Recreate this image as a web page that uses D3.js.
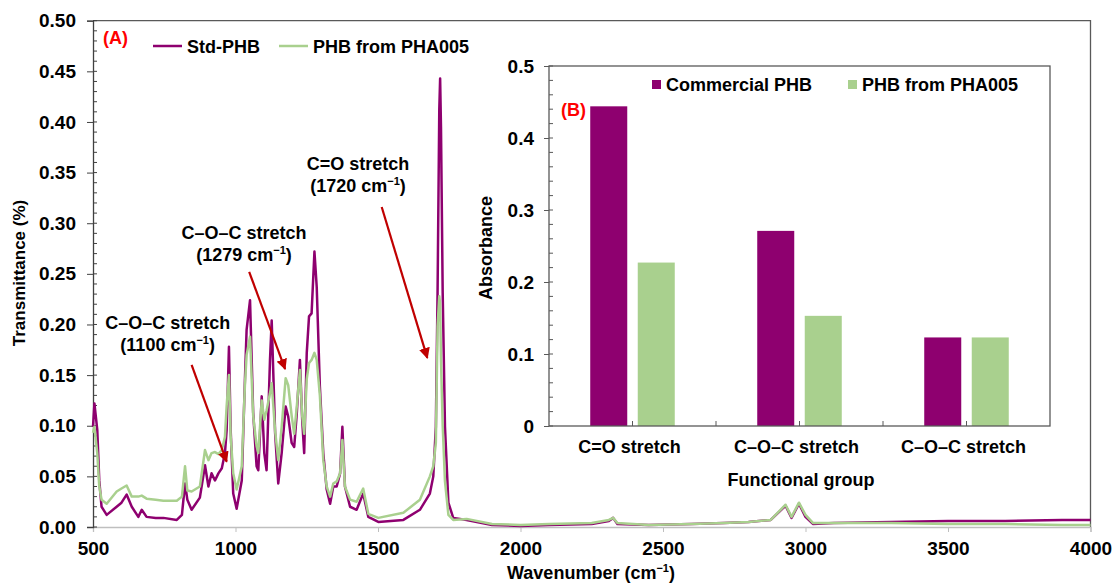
<!DOCTYPE html>
<html>
<head>
<meta charset="utf-8">
<script src="https://cdn.jsdelivr.net/npm/d3@7"></script>
<style>
  body { margin: 0; background: #fff; }
  svg text { font-family: "Liberation Sans", Arial, sans-serif; font-weight: bold; fill: #000; }
</style>
</head>
<body>
<div id="chart"></div>
<script>
// FTIR spectrum (panel A)
var wavenumber = [500, 505, 515, 522, 530, 548, 583, 600, 618, 636, 659, 671, 688, 720, 747, 794, 812, 823, 831, 846,
  875, 893, 905, 916, 928, 940, 952, 963, 969, 977, 983, 992, 1004, 1022, 1033, 1039, 1051, 1062, 1074, 1080,
  1092, 1101, 1109, 1121, 1127, 1139, 1150, 1162, 1176, 1185, 1197, 1206, 1215, 1226, 1234, 1241, 1250, 1258, 1267, 1277,
  1285, 1296, 1308, 1320, 1332, 1343, 1355, 1367, 1375, 1384, 1402, 1425, 1448, 1466, 1501, 1589, 1647, 1682, 1694, 1703,
  1709, 1715, 1718, 1721, 1727, 1735, 1747, 1764, 1811, 1900, 2000, 2100, 2250, 2310, 2325, 2340, 2450, 2600, 2714, 2800,
  2878, 2930, 2951, 2977, 3000, 3026, 3100, 3300, 3500, 3700, 3900, 4000];
var stdPHB = [0.099, 0.122, 0.096, 0.046, 0.020, 0.012, 0.020, 0.024, 0.032, 0.020, 0.010, 0.017, 0.010, 0.009, 0.009, 0.007, 0.012, 0.043, 0.027, 0.017,
  0.029, 0.061, 0.040, 0.053, 0.046, 0.053, 0.058, 0.073, 0.096, 0.178, 0.096, 0.033, 0.018, 0.046, 0.145, 0.195, 0.224, 0.113, 0.060, 0.056,
  0.129, 0.073, 0.056, 0.165, 0.204, 0.093, 0.043, 0.073, 0.119, 0.109, 0.083, 0.079, 0.112, 0.165, 0.106, 0.073, 0.172, 0.208, 0.211, 0.272,
  0.237, 0.139, 0.073, 0.037, 0.023, 0.040, 0.040, 0.053, 0.099, 0.040, 0.020, 0.017, 0.033, 0.010, 0.005, 0.007, 0.017, 0.033, 0.050, 0.099,
  0.231, 0.412, 0.443, 0.395, 0.231, 0.099, 0.024, 0.009, 0.007, 0.002, 0.001, 0.002, 0.003, 0.006, 0.009, 0.003, 0.002, 0.003, 0.004, 0.005,
  0.007, 0.021, 0.009, 0.023, 0.010, 0.003, 0.004, 0.005, 0.006, 0.006, 0.007, 0.007];
var phbPHA005 = [0.093, 0.099, 0.073, 0.040, 0.027, 0.023, 0.035, 0.038, 0.041, 0.030, 0.030, 0.031, 0.028, 0.027, 0.026, 0.026, 0.030, 0.060, 0.036, 0.035,
  0.040, 0.076, 0.066, 0.073, 0.074, 0.072, 0.076, 0.089, 0.120, 0.150, 0.090, 0.053, 0.037, 0.060, 0.140, 0.170, 0.188, 0.110, 0.080, 0.073,
  0.125, 0.106, 0.115, 0.132, 0.142, 0.095, 0.066, 0.099, 0.147, 0.140, 0.110, 0.092, 0.119, 0.155, 0.110, 0.092, 0.146, 0.162, 0.165, 0.172,
  0.165, 0.130, 0.066, 0.040, 0.030, 0.043, 0.045, 0.053, 0.086, 0.040, 0.027, 0.025, 0.038, 0.013, 0.009, 0.014, 0.027, 0.050, 0.060, 0.083,
  0.198, 0.228, 0.220, 0.165, 0.100, 0.045, 0.012, 0.007, 0.008, 0.003, 0.002, 0.003, 0.004, 0.007, 0.009, 0.004, 0.002, 0.003, 0.004, 0.005,
  0.007, 0.022, 0.010, 0.024, 0.012, 0.004, 0.004, 0.004, 0.003, 0.003, 0.002, 0.002];
var seriesNames = ["Std-PHB", "PHB from PHA005"];
var xTicks = [500, 1000, 1500, 2000, 2500, 3000, 3500, 4000];
var yTicks = [0, 0.05, 0.1, 0.15, 0.2, 0.25, 0.3, 0.35, 0.4, 0.45, 0.5];

// absorbance bars (panel B)
var groups = ["C=O stretch", "C\u2013O\u2013C stretch", "C\u2013O\u2013C stretch "];
var barSeries = ["Commercial PHB", "PHB from PHA005"];
var commercialPHB = [0.444, 0.271, 0.123];
var phbFromPHA005 = [0.227, 0.153, 0.123];
var barTicks = [0, 0.1, 0.2, 0.3, 0.4, 0.5];

// peak labels: [wavenumber, value] for text and arrow ends
var notes = [
  {title: "C=O stretch", band: "1720", text: [1430, 0.353], from: [1513, 0.316], to: [1673, 0.167]},
  {title: "C\u2013O\u2013C stretch", band: "1279", text: [1030, 0.284], from: [1048, 0.252], to: [1174, 0.156]},
  {title: "C\u2013O\u2013C stretch", band: "1100", text: [762, 0.196], from: [846, 0.160], to: [969, 0.0645]}
];

var purple = "#8e006f";
var green = "#a9d08e";
var red = "#c00000";
var width = 1114, height = 585;

var svg = d3.select("#chart").append("svg").attr("width", width).attr("height", height);
svg.append("rect").attr("width", width).attr("height", height).attr("fill", "#fff");

var defs = svg.append("defs");
defs.append("marker").attr("id", "head").attr("viewBox", "0 0 10 10")
  .attr("refX", 9).attr("refY", 5).attr("markerWidth", 5).attr("markerHeight", 5)
  .attr("markerUnits", "strokeWidth").attr("orient", "auto")
  .append("path").attr("d", "M0,0 L10,5 L0,10 z").attr("fill", red);

var x = d3.scaleLinear().domain([500, 4000]).range([93, 1090.5]);
var y = d3.scaleLinear().domain([0, 0.5]).range([527, 20.7]);

// frame (top and right)
svg.append("path")
  .attr("d", "M" + x(500) + "," + y(0.5) + "H" + x(4000) + "V" + y(0))
  .attr("fill", "none").attr("stroke", "#595959").attr("stroke-width", 1.3);

// x axis
var xAxis = svg.append("g").attr("transform", "translate(0," + y(0) + ")")
  .call(d3.axisBottom(x).tickValues(xTicks).tickSize(5).tickPadding(10).tickFormat(d3.format("d")));
xAxis.select(".domain").attr("stroke", "#bfbfbf").attr("stroke-width", 1.3);
xAxis.selectAll(".tick line").attr("stroke", "#bfbfbf");
xAxis.selectAll("text").style("font-size", "19px");

// y axis, minor ticks inside
var minor = d3.range(0, 51).map(function(i) { return i / 100; });
svg.append("g").selectAll("line").data(minor).enter().append("line")
  .attr("x1", x(500)).attr("x2", x(500) + 4)
  .attr("y1", function(d) { return y(d); }).attr("y2", function(d) { return y(d); })
  .attr("stroke", "#404040");
var yAxis = svg.append("g").attr("transform", "translate(" + x(500) + ",0)")
  .call(d3.axisLeft(y).tickValues(yTicks).tickSize(6).tickPadding(11).tickFormat(d3.format(".2f")));
yAxis.select(".domain").attr("stroke", "#404040").attr("stroke-width", 1.3);
yAxis.selectAll(".tick line").attr("stroke", "#404040");
yAxis.selectAll("text").style("font-size", "19px");

svg.append("text").attr("transform", "translate(25,273) rotate(-90)")
  .attr("text-anchor", "middle").style("font-size", "17px").text("Transmittance (%)");

var xt = svg.append("text").attr("x", 591).attr("y", 579).attr("text-anchor", "middle").style("font-size", "18px");
xt.append("tspan").text("Wavenumber (cm");
xt.append("tspan").attr("dy", -7).style("font-size", "11px").text("\u22121");
xt.append("tspan").attr("dy", 7).text(")");

// spectra
var line = d3.line().x(function(d) { return x(d[0]); }).y(function(d) { return y(d[1]); });
var spectra = [stdPHB, phbPHA005].map(function(vals) {
  return wavenumber.map(function(w, i) { return [w, vals[i]]; });
});
svg.append("g").selectAll("path").data(spectra).enter().append("path")
  .attr("d", line).attr("fill", "none")
  .attr("stroke", function(d, i) { return i === 0 ? purple : green; })
  .attr("stroke-width", 2.5).attr("stroke-linejoin", "round");

// legend A
svg.append("text").attr("x", 103).attr("y", 44).style("font-size", "18px").style("fill", "#ff0000").text("(A)");
var legA = svg.append("g").selectAll("g").data(seriesNames).enter().append("g")
  .attr("transform", function(d, i) { return "translate(" + (i === 0 ? 153 : 279) + ",46)"; });
legA.append("line").attr("x1", 0).attr("x2", 29).attr("stroke-width", 2.5)
  .attr("stroke", function(d, i) { return i === 0 ? purple : green; });
legA.append("text").attr("x", 34).attr("y", 6.5).style("font-size", "18px").text(function(d) { return d; });

// annotations
var ann = svg.append("g").selectAll("g").data(notes).enter().append("g");
ann.append("text").attr("text-anchor", "middle").style("font-size", "18px")
  .attr("x", function(d) { return x(d.text[0]); }).attr("y", function(d) { return y(d.text[1]); })
  .text(function(d) { return d.title; });
var sub = ann.append("text").attr("text-anchor", "middle").style("font-size", "18px")
  .attr("x", function(d) { return x(d.text[0]); }).attr("y", function(d) { return y(d.text[1]) + 22; });
sub.append("tspan").text(function(d) { return "(" + d.band + " cm"; });
sub.append("tspan").attr("dy", -7).style("font-size", "11px").text("\u22121");
sub.append("tspan").attr("dy", 7).text(")");
ann.append("line")
  .attr("x1", function(d) { return x(d.from[0]); }).attr("y1", function(d) { return y(d.from[1]); })
  .attr("x2", function(d) { return x(d.to[0]); }).attr("y2", function(d) { return y(d.to[1]); })
  .attr("stroke", red).attr("stroke-width", 2.2).attr("marker-end", "url(#head)");

// inset bar chart (panel B)
var bx = d3.scaleBand().domain(groups).range([549, 1050]);
var bs = d3.scaleBand().domain(barSeries).range([0, bx.bandwidth()]).paddingInner(0.221).paddingOuter(0.868);
var by = d3.scaleLinear().domain([0, 0.5]).range([426, 66]);
var inset = svg.append("g");

inset.selectAll("g.grp").data(groups).enter().append("g").attr("class", "grp")
  .attr("transform", function(d) { return "translate(" + bx(d) + ",0)"; })
  .selectAll("rect").data(function(d, i) {
    return [{s: barSeries[0], v: commercialPHB[i]}, {s: barSeries[1], v: phbFromPHA005[i]}];
  }).enter().append("rect")
  .attr("x", function(d) { return bs(d.s); }).attr("width", bs.bandwidth())
  .attr("y", function(d) { return by(d.v); }).attr("height", function(d) { return by(0) - by(d.v); })
  .attr("fill", function(d, i) { return i === 0 ? purple : green; });

inset.append("rect").attr("x", 549).attr("y", by(0.5)).attr("width", 1050 - 549).attr("height", by(0) - by(0.5))
  .attr("fill", "none").attr("stroke", "#595959").attr("stroke-width", 1.3);

var bminor = d3.range(0, 26).map(function(i) { return i / 50; });
inset.append("g").selectAll("line").data(bminor).enter().append("line")
  .attr("x1", 549).attr("x2", 553)
  .attr("y1", function(d) { return by(d); }).attr("y2", function(d) { return by(d); })
  .attr("stroke", "#595959");
var byAxis = inset.append("g").attr("transform", "translate(549,0)")
  .call(d3.axisLeft(by).tickValues(barTicks).tickSize(5).tickPadding(10).tickFormat(d3.format("~g")));
byAxis.select(".domain").remove();
byAxis.selectAll(".tick line").attr("stroke", "#595959");
byAxis.selectAll("text").style("font-size", "19px");

// category ticks (boundaries and centres)
var catTicks = [];
groups.forEach(function(g, i) {
  if (i > 0) catTicks.push(bx(g));
  catTicks.push(bx(g) + bx.bandwidth() / 2);
});
inset.append("g").selectAll("line").data(catTicks).enter().append("line")
  .attr("x1", function(d) { return d; }).attr("x2", function(d) { return d; })
  .attr("y1", by(0)).attr("y2", by(0) - 5).attr("stroke", "#595959");

inset.append("g").selectAll("text").data(groups).enter().append("text")
  .attr("x", function(d) { return bx(d) + bx.bandwidth() / 2 - 3; }).attr("y", 453)
  .attr("text-anchor", "middle").style("font-size", "18px").text(function(d) { return d.trim(); });

inset.append("text").attr("x", 801).attr("y", 486).attr("text-anchor", "middle")
  .style("font-size", "18px").text("Functional group");
inset.append("text").attr("transform", "translate(492,248) rotate(-90)")
  .attr("text-anchor", "middle").style("font-size", "18px").text("Absorbance");
inset.append("text").attr("x", 561).attr("y", 116).style("font-size", "18px").style("fill", "#ff0000").text("(B)");

var legB = inset.append("g").selectAll("g").data(barSeries).enter().append("g")
  .attr("transform", function(d, i) { return "translate(" + (i === 0 ? 652 : 848) + ",80)"; });
legB.append("rect").attr("width", 9).attr("height", 9)
  .attr("fill", function(d, i) { return i === 0 ? purple : green; });
legB.append("text").attr("x", 14).attr("y", 11).style("font-size", "18px").text(function(d) { return d; });
</script>
</body>
</html>
